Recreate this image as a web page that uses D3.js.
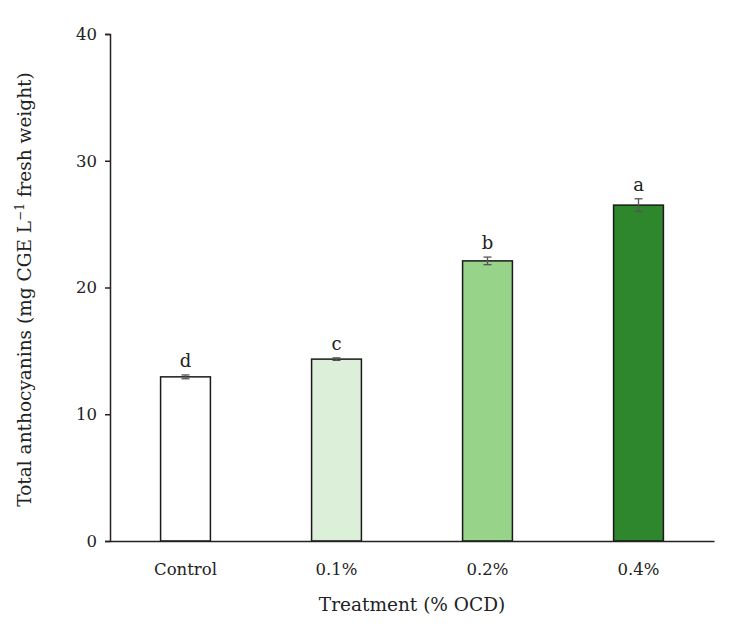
<!DOCTYPE html>
<html><head><meta charset="utf-8">
<script src="https://cdn.jsdelivr.net/npm/d3@7"></script>
<style>body{margin:0;background:#fff}</style>
</head><body>
<svg id="c" width="732" height="631"></svg>
<script>
const categories = ["Control", "0.1%", "0.2%", "0.4%"];
const values = [12.95, 14.35, 22.1, 26.5];
const errors = [0.15, 0.1, 0.3, 0.5];
const letters = ["d", "c", "b", "a"];
const colors = ["#ffffff", "#dcefd9", "#98d38a", "#2e862d"];
const yTicks = [0, 10, 20, 30, 40];

const svg = d3.select("#c");
const m = {l:110, r:18, t:34, b:90};
const W = 732, H = 631;
const x = d3.scaleBand().domain(categories).range([m.l, W - m.r]).paddingInner(0.67).paddingOuter(0.335);
const y = d3.scaleLinear().domain([0, 40]).range([H - m.b, m.t]);
const font = "DejaVu Serif";

const ya = svg.append("g").attr("transform", `translate(${m.l},0)`)
  .call(d3.axisLeft(y).tickValues(yTicks).tickSize(5).tickPadding(8));
ya.selectAll("text").attr("font-family", font).attr("font-size", "16.5px").attr("fill", "#222");
ya.selectAll("line,path").attr("stroke", "#222").attr("stroke-width", 1.5);

svg.selectAll("rect.bar").data(categories).join("rect").attr("class","bar")
  .attr("x", d => x(d)).attr("width", x.bandwidth())
  .attr("y", (d,i) => y(values[i])).attr("height", (d,i) => y(0) - y(values[i]))
  .attr("fill", (d,i) => colors[i]).attr("stroke", "#1a1a1a").attr("stroke-width", 1.5);

const eg = svg.append("g").attr("stroke", "#555").attr("stroke-width", 1.3);
categories.forEach((d,i) => {
  const cx = x(d) + x.bandwidth()/2;
  eg.append("line").attr("x1", cx).attr("x2", cx).attr("y1", y(values[i]+errors[i])).attr("y2", y(values[i]-errors[i]));
  eg.append("line").attr("x1", cx-4).attr("x2", cx+4).attr("y1", y(values[i]+errors[i])).attr("y2", y(values[i]+errors[i]));
  eg.append("line").attr("x1", cx-4).attr("x2", cx+4).attr("y1", y(values[i]-errors[i])).attr("y2", y(values[i]-errors[i]));
  svg.append("text").attr("x", cx).attr("y", y(values[i]+errors[i]) - 8).attr("text-anchor","middle")
    .attr("font-family", font).attr("font-size","18px").attr("fill","#222").text(letters[i]);
});

const xa = svg.append("g").attr("transform", `translate(0,${y(0)})`)
  .call(d3.axisBottom(x).tickSize(0).tickPadding(22));
xa.selectAll("text").attr("font-family", font).attr("font-size", "16.5px").attr("fill", "#222");
xa.select("path").attr("stroke", "#222").attr("stroke-width", 1.5);

svg.append("text").attr("x", (m.l + W - m.r)/2).attr("y", 611).attr("text-anchor","middle")
  .attr("font-family", font).attr("font-size","18.5px").attr("fill","#222").text("Treatment (% OCD)");

svg.append("text").attr("transform", `translate(31,${(m.t + H - m.b)/2 + 2}) rotate(-90)`).attr("text-anchor","middle")
  .attr("font-family", font).attr("font-size","18.5px").attr("fill","#222")
  .html("Total anthocyanins (mg CGE L<tspan dy='-7' font-size='12px'>−1</tspan><tspan dy='7'> fresh weight)</tspan>");
</script>
</body></html>
